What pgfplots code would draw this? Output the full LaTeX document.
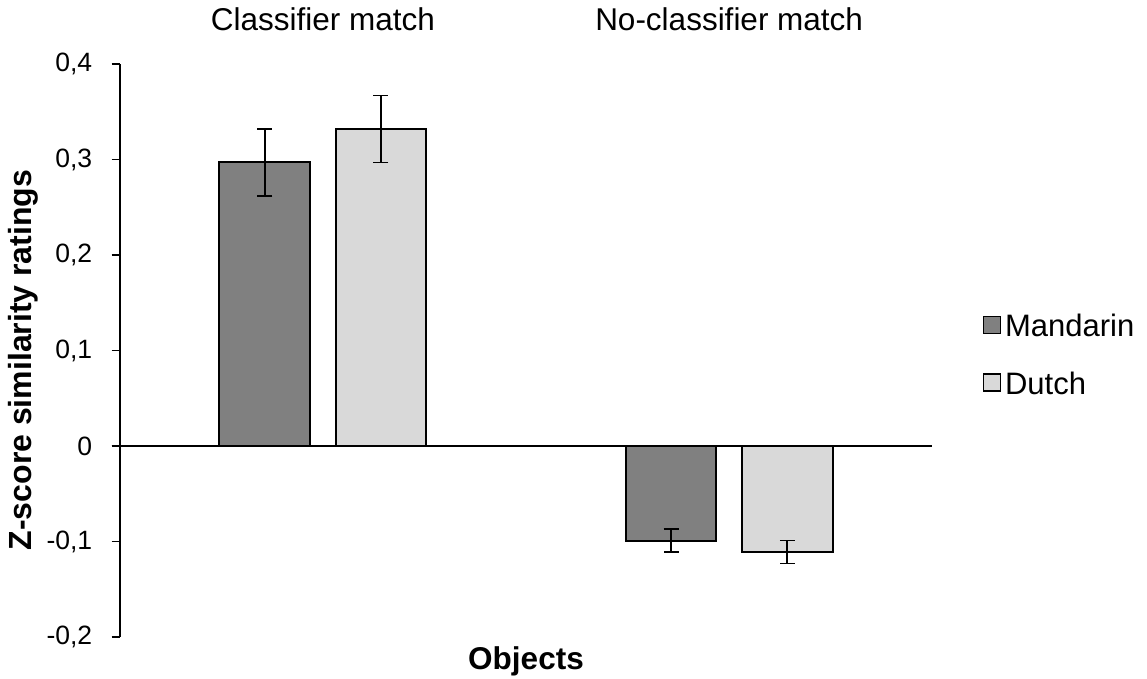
\documentclass[border=0pt]{standalone}
\usepackage{fontspec}
\setmainfont{Liberation Sans}
\usepackage{pgfplots}
\pgfplotsset{compat=1.18}
\definecolor{mand}{RGB}{128,128,128}
\definecolor{dutch}{RGB}{217,217,217}

\begin{document}
\begin{tikzpicture}
\useasboundingbox (0,0) rectangle (1147pt,678pt);
\begin{axis}[
  at={(119.7pt,41pt)}, anchor=south west,
  scale only axis, width=812.6pt, height=573pt,
  xmin=-0.5, xmax=1.5, ymin=-0.2, ymax=0.4,
  axis x line*=top, axis y line*=left,
  x axis line style={draw=none},
  y axis line style={line width=1.6pt, black},
  xtick={0,1}, xticklabels={Classifier match, No-classifier match},
  x tick style={draw=none},
  x tick label style={font=\fontsize{31.5}{36}\selectfont, anchor=base, yshift=26pt},
  ytick={-0.2,-0.1,0,0.1,0.2,0.3,0.4},
  yticklabels={{-0,2},{-0,1},{0},{0,1},{0,2},{0,3},{0,4}},
  y tick style={line width=1.6pt, black},
  tick align=outside, major tick length=8pt,
  y tick label style={font=\fontsize{26.5}{30}\selectfont, anchor=east, xshift=-16pt},
  extra y ticks={0}, extra y tick labels={},
  extra y tick style={grid=major, major grid style={line width=1.6pt, black}},
  ybar, bar width=0.223,
  xlabel={\textbf{Objects}},
  xlabel style={font=\fontsize{31.5}{36}\selectfont, at={(rel axis cs:0.5,0)}, anchor=base, yshift=-32pt},
  ylabel={\textbf{Z-score similarity ratings}},
  ylabel style={font=\fontsize{32}{36}\selectfont, at={(rel axis cs:0,0.4834)}, anchor=base, yshift=88pt},
  legend style={draw=none, fill=none, inner sep=0pt, font=\fontsize{31}{36}\selectfont,
    at={(1,0.4965)}, anchor=west, xshift=50pt, yshift=-2.5pt, row sep=30pt, column sep=2pt},
  legend cell align=left,
]
\addplot[bar shift=0pt, fill=mand, draw=black, line width=1.9pt,
  error bars/.cd, y dir=both, y explicit,
  error bar style={line width=1.7pt, black},
  error mark options={rotate=90, mark size=7.5pt, line width=1.7pt, black},
  /pgfplots/.cd,
  legend image code/.code={\draw[fill=mand, draw=black, line width=1.6pt] (0pt,-7.3pt) rectangle (17pt,9.7pt);}]
  coordinates {(-0.143,0.297) +- (0,0.035) (0.857,-0.099) +- (0,0.012)};
\addplot[bar shift=0pt, fill=dutch, draw=black, line width=1.9pt,
  error bars/.cd, y dir=both, y explicit,
  error bar style={line width=1.7pt, black},
  error mark options={rotate=90, mark size=7.5pt, line width=1.7pt, black},
  /pgfplots/.cd,
  legend image code/.code={\draw[fill=dutch, draw=black, line width=1.6pt] (0pt,-7.3pt) rectangle (17pt,9.7pt);}]
  coordinates {(0.143,0.332) +- (0,0.035) (1.143,-0.111) +- (0,0.012)};
\legend{Mandarin, Dutch}
\end{axis}
\end{tikzpicture}
\end{document}
